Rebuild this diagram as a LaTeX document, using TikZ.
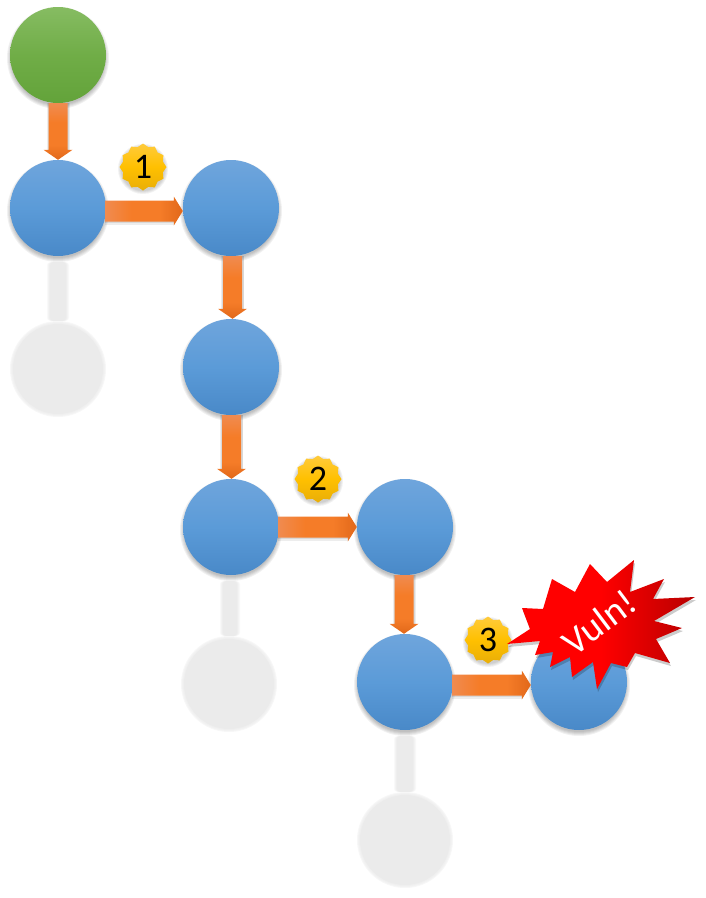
\documentclass[tikz,border=0pt]{standalone}
\usepackage{fontspec}
\setmainfont{Carlito}
\usetikzlibrary{calc,shapes.geometric}
\definecolor{bluetop}{HTML}{6FA5DC}
\definecolor{bluemid}{HTML}{5B9BD8}
\definecolor{bluebot}{HTML}{4989C8}
\definecolor{greentop}{HTML}{86BC62}
\definecolor{greenmid}{HTML}{70AD47}
\definecolor{greenbot}{HTML}{63A33A}
\definecolor{orA}{HTML}{F08B50}
\definecolor{orB}{HTML}{F57C28}
\definecolor{orC}{HTML}{E1681A}
\definecolor{goldtop}{HTML}{FFCB3C}
\definecolor{goldmid}{HTML}{FFC000}
\definecolor{goldbot}{HTML}{E9AE08}
\definecolor{ghost}{HTML}{EBEBEB}
\pgfdeclareverticalshading{orangedown}{100bp}{color(0bp)=(orC); color(25bp)=(orC); color(38bp)=(orB); color(58bp)=(orB); color(75bp)=(orA); color(100bp)=(orA)}
\pgfdeclarehorizontalshading{orangeright}{100bp}{color(0bp)=(orA); color(25bp)=(orA); color(42bp)=(orB); color(60bp)=(orB); color(75bp)=(orC); color(100bp)=(orC)}
\tikzset{
  x=1pt,y=-1pt,
  ball/.style={circle,minimum size=96pt,inner sep=0pt,draw=none},
  bluenode/.style={ball,top color=bluetop,bottom color=bluebot,middle color=bluemid},
  greennode/.style={ball,top color=greentop,bottom color=greenbot,middle color=greenmid},
  ghostnode/.style={ball,minimum size=90pt,fill=ghost},
  badge/.style={star,star points=12,star point ratio=1.14,minimum size=47pt,inner sep=0pt,draw=none,
    top color=goldtop,bottom color=goldbot,middle color=goldmid,text=black,font=\fontsize{36}{36}\selectfont},
}
\newcommand{\softshadow}[1]{%
  \foreach \r in {51,50,49,48,47}{\fill[black,opacity=.055] ($(#1)+(0,3)$) circle[radius=\r];}}
\newcommand{\softghost}[1]{%
  \foreach \r in {48,47,46}{\fill[ghost,opacity=.4] (#1) circle[radius=\r];}}
\newcommand{\softbadge}[1]{%
  \foreach \r in {25,24,23,22}{\fill[black,opacity=.05] ($(#1)+(0,2)$) circle[radius=\r];}}
% #1,#2 nodes; #3 horizontal offset of the connector from the node centres
\newcommand{\vconn}[3]{%
  \fill[black,opacity=.07] ($(#1.south)+(#3-11.5,0)$) rectangle ($(#2.north)+(#3+11.5,-8)$);
  \fill[black,opacity=.09] ($(#1.south)+(#3-10.5,0)$) rectangle ($(#2.north)+(#3+11,-8)$);
  \shade[shading=orangedown]
    ($(#1.south)+(#3-9.5,0)$) -- ($(#1.south)+(#3+9.5,0)$) -- ($(#2.north)+(#3+9.5,-10)$) -- ($(#2.north)+(#3+14.5,-10)$)
    -- ($(#2.north)+(#3,0)$) -- ($(#2.north)+(#3-14.5,-10)$) -- ($(#2.north)+(#3-9.5,-10)$) -- cycle;}
% #3 vertical offset of the connector from the node centres
\newcommand{\hconn}[3]{%
  \fill[black,opacity=.07] ($(#1.east)+(-1,#3-10)$) rectangle ($(#2.west)+(-8,#3+13.5)$);
  \fill[black,opacity=.09] ($(#1.east)+(-1,#3-10)$) rectangle ($(#2.west)+(-8,#3+12)$);
  \shade[shading=orangeright]
    ($(#1.east)+(-1,#3-10.5)$) -- ($(#2.west)+(-9,#3-10.5)$) -- ($(#2.west)+(-9,#3-14.5)$) -- ($(#2.west)+(0,#3)$)
    -- ($(#2.west)+(-9,#3+14.5)$) -- ($(#2.west)+(-9,#3+10.5)$) -- ($(#1.east)+(-1,#3+10.5)$) -- cycle;}
\newcommand{\gconn}[2]{%
  \foreach \w/\o in {11/.3,10/.4,9/.6,8/1}{\fill[ghost,opacity=\o,rounded corners=3pt] ($(#1.south)+(-\w,6)$) rectangle ($(#2.north)+(\w,-3)$);}}
\begin{document}
\begin{tikzpicture}
\useasboundingbox (0,0) rectangle (705,898);
% ghost branch
\coordinate (t1) at (58,369);
\coordinate (t2) at (229,684);
\coordinate (t3) at (405,840);
\foreach \c in {t1,t2,t3}{\softghost{\c}}
\node[ghostnode] (g1) at (t1) {};
\node[ghostnode] (g2) at (t2) {};
\node[ghostnode] (g3) at (t3) {};
% coordinates for shadows
\coordinate (sa) at (58,55);
\coordinate (sb) at (58,208);
\coordinate (sc) at (231,208);
\coordinate (sd) at (231,367);
\coordinate (se) at (231,527);
\coordinate (sf) at (405,527);
\coordinate (sg) at (405,682);
\coordinate (sh) at (579,682);
\foreach \c in {sa,sb,sc,sd,se,sf,sg,sh}{\softshadow{\c}}
\node[greennode] (a) at (sa) {};
\node[bluenode] (b) at (sb) {};
\node[bluenode] (c) at (sc) {};
\node[bluenode] (d) at (sd) {};
\node[bluenode] (e) at (se) {};
\node[bluenode] (f) at (sf) {};
\node[bluenode] (h) at (sg) {};
\node[bluenode] (i) at (sh) {};
\gconn{b}{g1}
\gconn{e}{g2}
\gconn{h}{g3}
\vconn{a}{b}{0}
\hconn{b}{c}{3}
\vconn{c}{d}{1.5}
\vconn{d}{e}{0.5}
\hconn{e}{f}{0}
\vconn{f}{h}{-1}
\hconn{h}{i}{3}
% badges
\coordinate (s1) at (143,167);
\coordinate (s2) at (318,479);
\coordinate (s3) at (488,640);
\foreach \c in {s1,s2,s3}{\softbadge{\c}}
\node[badge] (n1) at (s1) {1};
\node[badge] (n2) at (s2) {2};
\node[badge] (n3) at (s3) {3};
% burst
\def\burst{(507,644) -- (530,629) -- (522,608) -- (543,609) -- (552,579) -- (575,592) -- (590,564) -- (607,582) -- (634,560) -- (630,592) -- (664,579) -- (653,599) -- (695,597) -- (654,621) -- (682,628) -- (656,639) -- (670,663) -- (635,653) -- (627,667) -- (611,663) -- (597,689) -- (593,662) -- (572,677) -- (570,657) -- (550,667) -- (553,652) -- (535,655) -- (540,641) -- cycle}
\begin{scope}[shift={(1,3)}]
\fill[black,opacity=.2] \burst;
\end{scope}
\shade[shading angle=60,left color=red,right color=red!72!black,middle color=red] \burst;
\node[text=white,rotate=37,font=\fontsize{38}{38}\selectfont] (v) at (599,622) {Vuln!};
\end{tikzpicture}
\end{document}
